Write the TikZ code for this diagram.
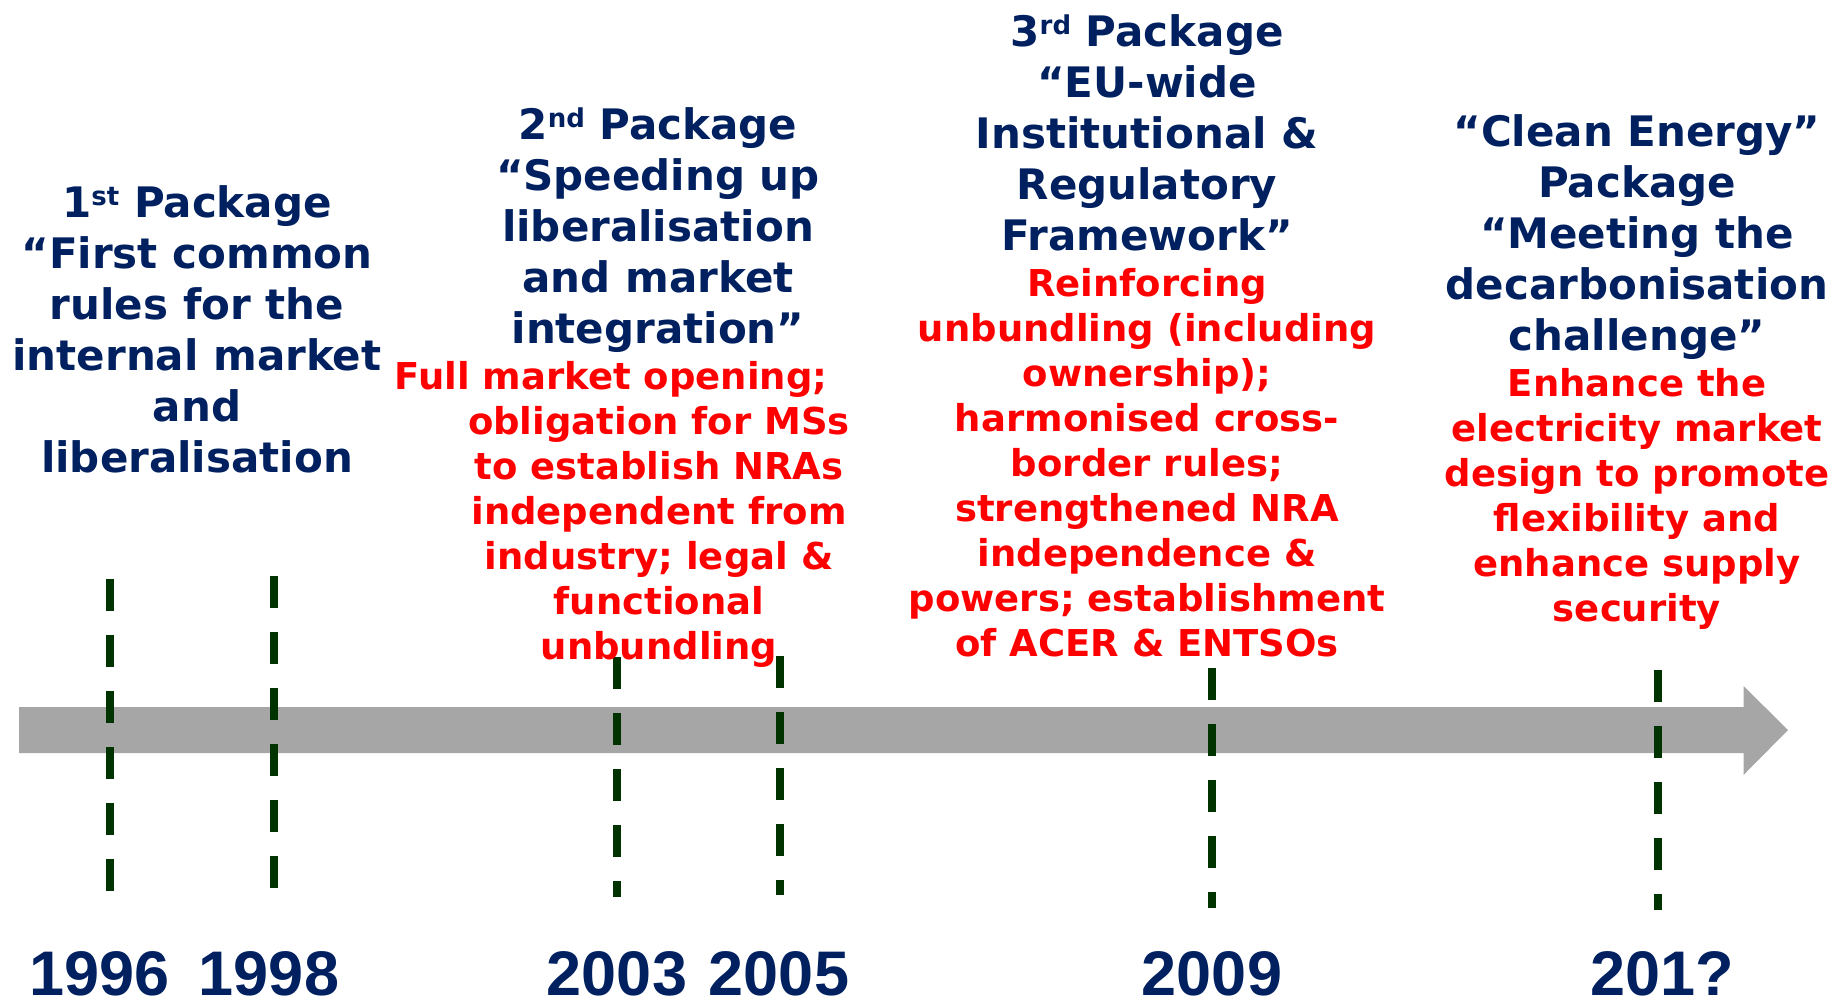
\documentclass[tikz,border=0pt]{standalone}
\usepackage{fontspec}
\setmainfont{DejaVu Sans}
\newfontfamily\yearfont{Liberation Sans}
\definecolor{navy}{HTML}{002060}
\definecolor{dgreen}{HTML}{003300}
\definecolor{arrowgray}{HTML}{A6A6A6}
\newcommand{\supx}[1]{\raisebox{12pt}{\fontsize{26}{26}\selectfont #1}}
\newcommand{\topb}{\rule{0pt}{40pt}}
\newcommand{\topr}{\rule{0pt}{36pt}}
\tikzset{
  bluetext/.style={font=\fontsize{42}{51}\selectfont\bfseries, text=navy, align=center, anchor=north, inner sep=0pt},
  redtext/.style={font=\fontsize{37}{45}\selectfont\bfseries, text=red, align=center, anchor=north, inner sep=0pt},
  yearlabel/.style={font=\yearfont\fontsize{63}{63}\selectfont\bfseries, text=navy, anchor=base, inner sep=0pt},
  milestone/.style={draw=dgreen, line width=7.5pt, dash pattern=on 32pt off 24pt},
}
\begin{document}
\begin{tikzpicture}[x=1pt,y=-1pt]
\useasboundingbox (0,0) rectangle (1833,1002);
% timeline arrow
\fill[arrowgray] (19,707) -- (1743.5,707) -- (1743.5,686) -- (1788,730)
  -- (1743.5,775) -- (1743.5,753) -- (19,753) -- cycle;
% milestone dashed lines
\foreach \n/\x/\a/\b in {1996/110/579/891, 1998/274/576/888, 2003/617/657/897,
  2005/780/656/895, 2009/1212/668/908, 2010/1658/670/910}{
  \coordinate (t\n) at (\x,\a);
  \coordinate (b\n) at (\x,\b);
  \draw[milestone] (t\n) -- (b\n);
}
% years
\node[yearlabel] (y1996) at (99.5,995) {1996};
\node[yearlabel] (y1998) at (269,995) {1998};
\node[yearlabel] (y2003) at (617,995) {2003};
\node[yearlabel] (y2005) at (779,995) {2005};
\node[yearlabel] (y2009) at (1212,995) {2009};
\node[yearlabel] (y2010) at (1662,995) {201?};
% package titles
\node[bluetext] (p1) at (197,177) {\topb 1\supx{st} Package\\“First common\\rules for the\\internal market\\and\\liberalisation};
\node[bluetext] (p2) at (658,99) {\topb 2\supx{nd} Package\\“Speeding up\\liberalisation\\and market\\integration”};
\node[bluetext] (p3) at (1147,6) {\topb 3\supx{rd} Package\\“EU-wide\\Institutional \&\\Regulatory\\Framework”};
\node[bluetext] (p4) at (1637,106) {\topb “Clean Energy”\\Package\\“Meeting the\\decarbonisation\\challenge”};
% package contents
\node[redtext] (r2) at (659,353) {\topr Full market opening;\hspace*{96pt}\\obligation for MSs\\to establish NRAs\\independent from\\industry; legal \&\\functional\\unbundling};
\node[redtext] (r3) at (1147,260) {\topr Reinforcing\\unbundling (including\\ownership);\\harmonised cross-\\border rules;\\strengthened NRA\\independence \&\\powers; establishment\\of ACER \& ENTSOs};
\node[redtext] (r4) at (1637,360) {\topr Enhance the\\electricity market\\design to promote\\flexibility and\\enhance supply\\security};
\end{tikzpicture}
\end{document}
